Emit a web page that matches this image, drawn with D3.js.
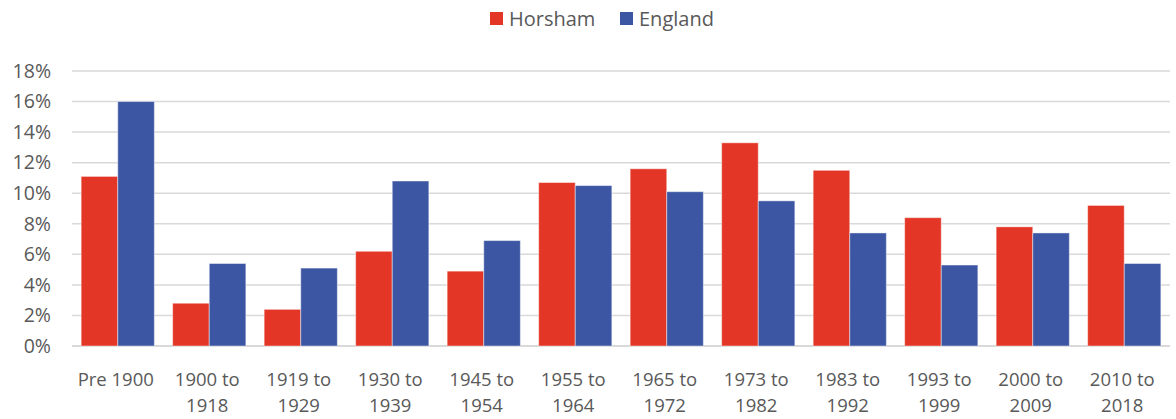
<!DOCTYPE html>
<html>
<head>
<meta charset="utf-8">
<script src="https://cdn.jsdelivr.net/npm/d3@7"></script>
<style>
  body { margin: 0; background: #fff; }
  svg { display: block; font-family: "Open Sans", "Noto Sans", sans-serif; }
</style>
</head>
<body>
<svg id="chart" width="1176" height="419"></svg>
<script>
// categories (two-line labels)
const categories = [
  ["Pre 1900"], ["1900 to", "1918"], ["1919 to", "1929"], ["1930 to", "1939"],
  ["1945 to", "1954"], ["1955 to", "1964"], ["1965 to", "1972"], ["1973 to", "1982"],
  ["1983 to", "1992"], ["1993 to", "1999"], ["2000 to", "2009"], ["2010 to", "2018"]
];
const seriesNames = ["Horsham", "England"];
const horsham = [11.1, 2.8, 2.4, 6.2, 4.9, 10.7, 11.6, 13.3, 11.5, 8.4, 7.8, 9.2];
const england = [16.0, 5.4, 5.1, 10.8, 6.9, 10.5, 10.1, 9.5, 7.4, 5.3, 7.4, 5.4];
const yTicks = [0, 2, 4, 6, 8, 10, 12, 14, 16, 18];
const colors = ["#e33626", "#3c56a3"];

const svg = d3.select("#chart");
const mLeft = 72, mRight = 1170, mTop = 71, mBottom = 346;

const x0 = d3.scaleBand().domain(d3.range(categories.length)).range([mLeft, mRight]).paddingInner(0.2).paddingOuter(0.1);
const x1 = d3.scaleBand().domain([0, 1]).range([0, x0.bandwidth()]);
const y = d3.scaleLinear().domain([0, 18]).range([mBottom, mTop]);

// gridlines
svg.append("g").selectAll("line").data(yTicks).join("line")
  .attr("x1", mLeft).attr("x2", mRight)
  .attr("y1", d => y(d)).attr("y2", d => y(d))
  .attr("stroke", "#d9d9d9").attr("stroke-width", d => d === 0 ? 2 : 1.5);

// y labels
const yAxis = d3.axisLeft(y).tickValues(yTicks).tickFormat(d => d + "%").tickSize(0).tickPadding(0);
const ya = svg.append("g").attr("transform", "translate(51,0)").call(yAxis);
ya.select(".domain").remove();
ya.selectAll("text").attr("fill", "#595959").style("font-size", "19.5px")
  .style("font-family", "\"Open Sans\", \"Noto Sans\", sans-serif");

// bars
const data = [horsham, england];
const groups = svg.append("g").selectAll("g").data(data).join("g")
  .attr("fill", (d, i) => colors[i]);
groups.each(function(vals, si) {
  d3.select(this).selectAll("rect").data(vals).join("rect")
    .attr("x", (d, i) => x0(i) + x1(si))
    .attr("y", d => y(d))
    .attr("width", x1.bandwidth())
    .attr("height", d => y(0) - y(d))
    .attr("stroke", "#ffffff").attr("stroke-opacity", 0.45).attr("stroke-width", 1);
});

// x labels
const xl = svg.append("g").selectAll("text").data(categories).join("text")
  .attr("x", (d, i) => x0(i) + x0.bandwidth() / 2 - 2)
  .attr("y", 386)
  .attr("text-anchor", "middle")
  .attr("fill", "#595959")
  .style("font-size", "18.5px");
xl.selectAll("tspan").data(d => d).join("tspan")
  .attr("x", function() { return d3.select(this.parentNode).attr("x"); })
  .attr("dy", (d, i) => i === 0 ? 0 : 25.5)
  .text(d => d);

// legend
const legendX = [490, 620];
const lg = svg.append("g").selectAll("g").data(seriesNames).join("g")
  .attr("transform", (d, i) => `translate(${legendX[i]},12)`);
lg.append("rect").attr("width", 13).attr("height", 13).attr("fill", (d, i) => colors[i]);
lg.append("text").attr("x", 19).attr("y", 13.5).attr("fill", "#595959")
  .style("font-size", "20px").text(d => d);
</script>
</body>
</html>
